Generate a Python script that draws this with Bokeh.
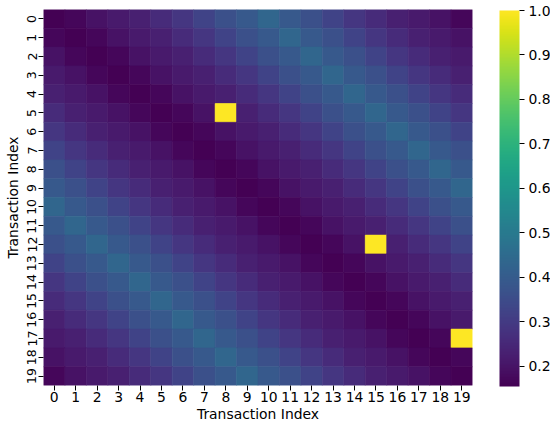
from bokeh.plotting import figure
from bokeh.models import ColumnDataSource, LinearColorMapper, ColorBar, FixedTicker, PrintfTickFormatter
from bokeh.transform import transform
from bokeh.palettes import Viridis256
from bokeh.embed import file_html
from bokeh.resources import INLINE

labels = [str(i) for i in range(20)]

matrix = [
    [.155, .17, .195, .215, .23, .26, .29, .325, .36, .39, .435, .39, .36, .325, .29, .26, .23, .215, .195, .17],
    [.17, .155, .17, .195, .215, .23, .26, .29, .325, .36, .39, .435, .39, .36, .325, .29, .26, .23, .215, .195],
    [.195, .17, .155, .17, .195, .215, .23, .26, .29, .325, .36, .39, .435, .39, .36, .325, .29, .26, .23, .215],
    [.215, .195, .17, .155, .17, .195, .215, .23, .26, .29, .325, .36, .39, .435, .39, .36, .325, .29, .26, .23],
    [.23, .215, .195, .17, .155, .17, .195, .215, .23, .26, .29, .325, .36, .39, .435, .39, .36, .325, .29, .26],
    [.26, .23, .215, .195, .17, .155, .17, .195, 1.0, .23, .26, .29, .325, .36, .39, .435, .39, .36, .325, .29],
    [.29, .26, .23, .215, .195, .17, .155, .17, .195, .215, .23, .26, .29, .325, .36, .39, .435, .39, .36, .325],
    [.325, .29, .26, .23, .215, .195, .17, .155, .17, .195, .215, .23, .26, .29, .325, .36, .39, .435, .39, .36],
    [.36, .325, .29, .26, .23, .215, .195, .17, .155, .17, .195, .215, .23, .26, .29, .325, .36, .39, .435, .39],
    [.39, .36, .325, .29, .26, .23, .215, .195, .17, .155, .17, .195, .215, .23, .26, .29, .325, .36, .39, .435],
    [.435, .39, .36, .325, .29, .26, .23, .215, .195, .17, .155, .17, .195, .215, .23, .26, .29, .325, .36, .39],
    [.39, .435, .39, .36, .325, .29, .26, .23, .215, .195, .17, .155, .17, .195, .215, .23, .26, .29, .325, .36],
    [.36, .39, .435, .39, .36, .325, .29, .26, .23, .215, .195, .17, .155, .17, .195, 1.0, .23, .26, .29, .325],
    [.325, .36, .39, .435, .39, .36, .325, .29, .26, .23, .215, .195, .17, .155, .17, .195, .215, .23, .26, .29],
    [.29, .325, .36, .39, .435, .39, .36, .325, .29, .26, .23, .215, .195, .17, .155, .17, .195, .215, .23, .26],
    [.26, .29, .325, .36, .39, .435, .39, .36, .325, .29, .26, .23, .215, .195, .17, .155, .17, .195, .215, .23],
    [.23, .26, .29, .325, .36, .39, .435, .39, .36, .325, .29, .26, .23, .215, .195, .17, .155, .17, .195, .215],
    [.215, .23, .26, .29, .325, .36, .39, .435, .39, .36, .325, .29, .26, .23, .215, .195, .17, .155, .17, 1.0],
    [.195, .215, .23, .26, .29, .325, .36, .39, .435, .39, .36, .325, .29, .26, .23, .215, .195, .17, .155, .17],
    [.17, .195, .215, .23, .26, .29, .325, .36, .39, .435, .39, .36, .325, .29, .26, .23, .215, .195, .17, .155],
]

cbar_ticks = [0.2, 0.3, 0.4, 0.5, 0.6, 0.7, 0.8, 0.9, 1.0]
vmin, vmax = 0.155, 1.0

xs, ys, vals = [], [], []
for i, row in enumerate(matrix):
    for j, v in enumerate(row):
        xs.append(labels[j])
        ys.append(labels[i])
        vals.append(v)
src = ColumnDataSource(dict(x=xs, y=ys, v=vals))

mapper = LinearColorMapper(palette=Viridis256, low=vmin, high=vmax)

FONT = "DejaVu Sans"
FS = "13.9px"

p = figure(frame_width=429, frame_height=376, x_range=labels, y_range=list(reversed(labels)),
           output_backend="svg", toolbar_location=None,
           min_border_left=43, min_border_top=9, min_border_bottom=39, min_border_right=78)
p.rect(x="x", y="y", width=1, height=1, source=src,
       fill_color=transform("v", mapper), line_color=transform("v", mapper), line_width=0.6)

p.outline_line_color = None
p.grid.visible = False
for ax in (p.xaxis[0], p.yaxis[0]):
    ax.axis_line_color = None
    ax.major_tick_in = 0
    ax.major_tick_out = 5
    ax.major_tick_line_color = "black"
    ax.major_label_text_font = FONT
    ax.major_label_text_font_size = FS
    ax.major_label_text_color = "black"
    ax.axis_label = "Transaction Index"
    ax.axis_label_text_font = FONT
    ax.axis_label_text_font_size = FS
    ax.axis_label_text_font_style = "normal"
    ax.axis_label_text_color = "black"
    ax.major_label_standoff = 1
    ax.axis_label_standoff = 1
p.yaxis.major_label_orientation = "vertical"
p.yaxis.major_label_text_font_size = "12.5px"
p.yaxis.major_label_standoff = 2
p.yaxis.axis_label_standoff = 4

cb = ColorBar(color_mapper=mapper, ticker=FixedTicker(ticks=cbar_ticks),
              formatter=PrintfTickFormatter(format="%.1f"),
              width=20, height=376, padding=0, margin=0, location=(456, -1),
              major_tick_in=0, major_tick_out=5, major_tick_line_color="black",
              bar_line_color=None, background_fill_color=None, border_line_color=None,
              major_label_text_font=FONT, major_label_text_font_size=FS,
              major_label_text_color="black", label_standoff=4)
p.add_layout(cb, "center")

open("out.html", "w").write(file_html(p, INLINE))
